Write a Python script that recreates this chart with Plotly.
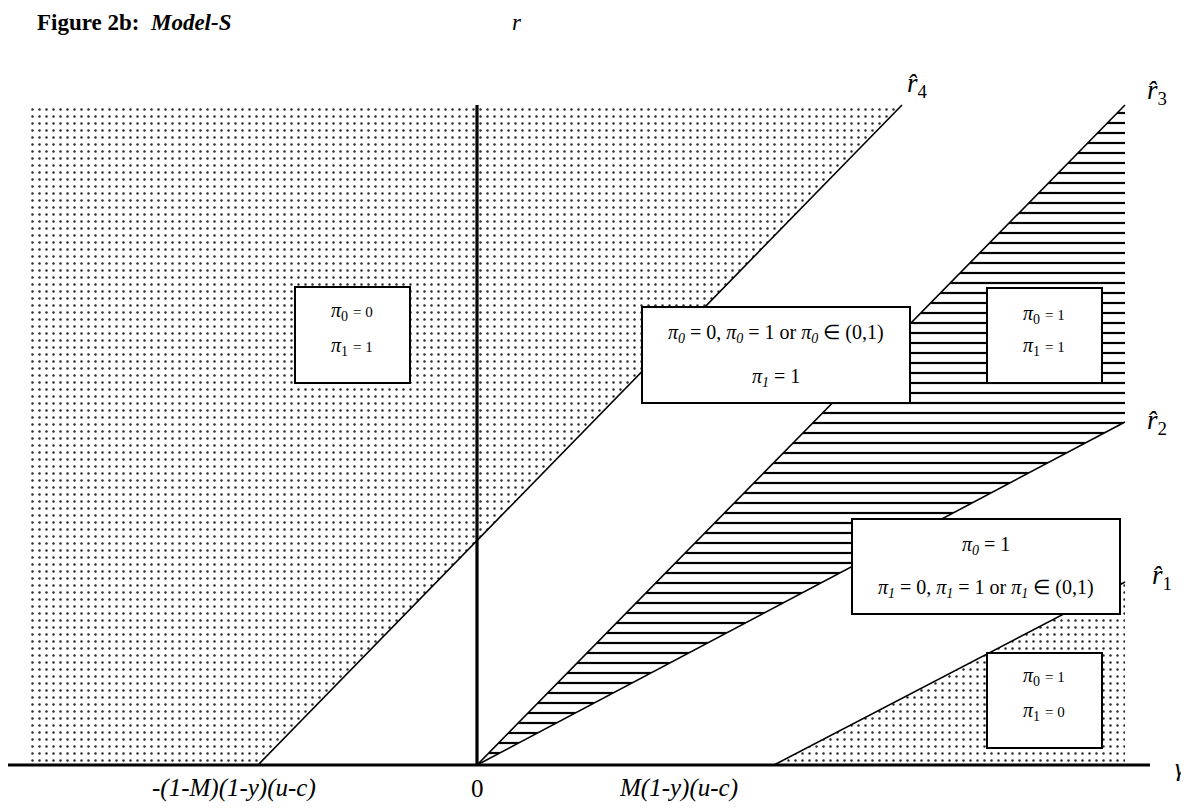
import plotly.graph_objects as go

# ---- data (gamma on x, r on y; origin at 0) ----
r4_x = [-219, 425]; r4_r = [0, 660]
r3_x = [0, 648];    r3_r = [0, 660]
r2_x = [0, 648];    r2_r = [0, 343]
r1_x = [297, 648];  r1_r = [0, 183]

dot_left_x = [-449, 425, -219, -449]
dot_left_r = [660, 660, 0, 0]
hatch_x = [0, 648, 648]
hatch_r = [0, 660, 343]
dot_right_x = [297, 648, 648]
dot_right_r = [0, 183, 0]

axis_h_x = [-470, 673]; axis_h_r = [0, 0]
axis_v_x = [0, 0];      axis_v_r = [0, 660]

tick_vals = [-243, 0, 201]
tick_text = ["-(1-M)(1-y)(u-c)", "0", "M(1-y)(u-c)"]

line_sub = ["4", "3", "2", "1"]
line_label_x = [428, 668, 668, 673]
line_label_r = [680, 673, 343, 188]

# boxes: x0, x1, r0, r1
boxes = [(-182, -67, 382, 478), (165, 433, 362, 458), (510, 625, 382, 477),
         (375, 643, 151, 246), (510, 625, 17, 112)]

small_box_cx = [-125, 567, 567]
small_box_r1 = [454, 451, 89]
small_box_r2 = [419, 419, 54]
small_box_s1 = [("0", "0"), ("0", "1"), ("0", "1")]
small_box_s2 = [("1", "1"), ("1", "1"), ("1", "0")]

big_box_cx = [299, 509]
big_box_r1 = [432, 220]
big_box_r2 = [388, 177]
big_box_l1 = ["<i>\u03c0<sub>0</sub></i> = 0, <i>\u03c0<sub>0</sub></i> = 1 or <i>\u03c0<sub>0</sub></i> \u2208 (0,1)",
              "<i>\u03c0<sub>0</sub></i> = 1"]
big_box_l2 = ["<i>\u03c0<sub>1</sub></i> = 1",
              "<i>\u03c0<sub>1</sub></i> = 0, <i>\u03c0<sub>1</sub></i> = 1 or <i>\u03c0<sub>1</sub></i> \u2208 (0,1)"]

FONT = "Liberation Serif"

fig = go.Figure()

dot_pattern = dict(shape=".", size=7, solidity=0.1, fgcolor="#2a2a2a", bgcolor="white", fillmode="replace")
hatch_pattern = dict(shape="-", size=10, solidity=0.22, fgcolor="black", bgcolor="white", fillmode="replace")

fig.add_trace(go.Scatter(x=dot_left_x, y=dot_left_r, fill="toself", mode="none",
                         fillpattern=dot_pattern, fillcolor="white", hoverinfo="skip"))
fig.add_trace(go.Scatter(x=dot_right_x, y=dot_right_r, fill="toself", mode="none",
                         fillpattern=dot_pattern, fillcolor="white", hoverinfo="skip"))
fig.add_trace(go.Scatter(x=hatch_x, y=hatch_r, fill="toself", mode="none",
                         fillpattern=hatch_pattern, fillcolor="white", hoverinfo="skip"))

for lx, lr in [(r4_x, r4_r), (r3_x, r3_r), (r2_x, r2_r), (r1_x, r1_r)]:
    fig.add_trace(go.Scatter(x=lx, y=lr, mode="lines", line=dict(color="black", width=1.6),
                             hoverinfo="skip"))

fig.add_trace(go.Scatter(x=axis_h_x, y=axis_h_r, mode="lines", line=dict(color="black", width=3.2),
                         hoverinfo="skip"))
fig.add_trace(go.Scatter(x=axis_v_x, y=axis_v_r, mode="lines", line=dict(color="black", width=3.2),
                         hoverinfo="skip"))

shapes = []
for (x0, x1, y0, y1) in boxes:
    shapes.append(dict(type="rect", xref="x", yref="y", x0=x0, x1=x1, y0=y0, y1=y1,
                       fillcolor="white", line=dict(color="black", width=2), layer="above"))

ann = []
for v, t in zip(tick_vals, tick_text):
    txt = t if t == "0" else "<i>" + t + "</i>"
    ann.append(dict(x=v, y=-23, text=txt, showarrow=False, xanchor="center", yanchor="middle",
                    font=dict(family=FONT, size=25, color="black")))
for s, x, r in zip(line_sub, line_label_x, line_label_r):
    ann.append(dict(x=x, y=r, text="<i>r\u0302</i><sub>" + s + "</sub>",
                    showarrow=False, xanchor="left", yanchor="middle",
                    font=dict(family=FONT, size=27, color="black")))


def small_txt(sub, val):
    return ("<i>\u03c0</i><sub>" + sub + "</sub> <span style='font-size:15px'>= " + val + "</span>")


for cx, a, b, s1, s2 in zip(small_box_cx, small_box_r1, small_box_r2, small_box_s1, small_box_s2):
    ann.append(dict(x=cx, y=a, text=small_txt(*s1), showarrow=False, xanchor="center", yanchor="middle",
                    font=dict(family=FONT, size=20, color="black")))
    ann.append(dict(x=cx, y=b, text=small_txt(*s2), showarrow=False, xanchor="center", yanchor="middle",
                    font=dict(family=FONT, size=20, color="black")))
for cx, a, b, t1, t2 in zip(big_box_cx, big_box_r1, big_box_r2, big_box_l1, big_box_l2):
    ann.append(dict(x=cx, y=a, text=t1, showarrow=False, xanchor="center", yanchor="middle",
                    font=dict(family=FONT, size=20, color="black")))
    ann.append(dict(x=cx, y=b, text=t2, showarrow=False, xanchor="center", yanchor="middle",
                    font=dict(family=FONT, size=20, color="black")))

# title, axis names
ann.append(dict(x=-442, y=743, text="<b>Figure 2b:  <i>Model-S</i></b>", showarrow=False,
                xanchor="left", yanchor="middle", font=dict(family=FONT, size=23, color="black")))
ann.append(dict(x=40, y=743, text="<i>r</i>", showarrow=False, xanchor="center", yanchor="middle",
                font=dict(family=FONT, size=23, color="black")))
ann.append(dict(x=696, y=-2, text="<i>\u03b3</i>", showarrow=False, xanchor="left", yanchor="middle",
                font=dict(family=FONT, size=25, color="black")))

# page body has an 8px margin: shrink figure so data lands on the same screen pixels
fig.update_layout(
    width=1181, height=801,
    margin=dict(l=0, r=0, t=0, b=0),
    paper_bgcolor="white", plot_bgcolor="white",
    showlegend=False,
    xaxis=dict(range=[-469, 712], visible=False, fixedrange=True),
    yaxis=dict(range=[-44, 757], visible=False, fixedrange=True),
    shapes=shapes,
    annotations=ann,
)

fig.write_html("out.html")
